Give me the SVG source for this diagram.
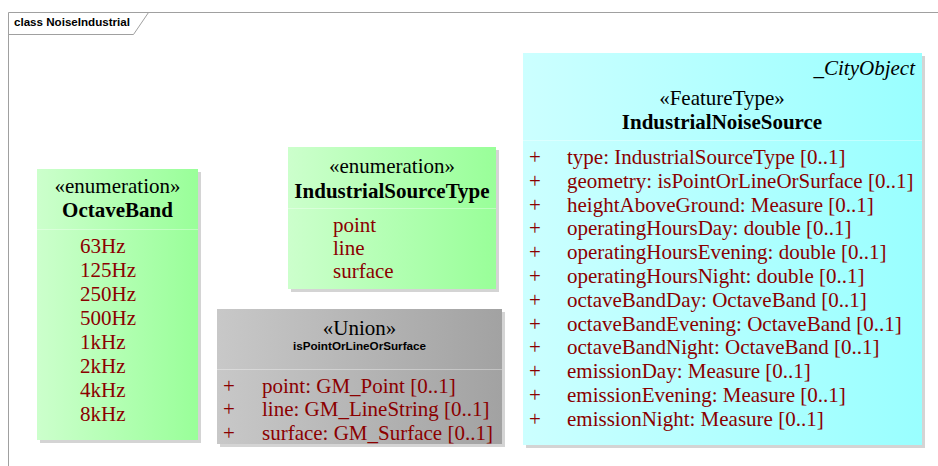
<svg xmlns="http://www.w3.org/2000/svg" width="938" height="466" viewBox="0 0 938 466">
<defs>
<linearGradient id="gGreen" x1="0" y1="0" x2="1" y2="0">
<stop offset="0" stop-color="#ccffcc"/>
<stop offset="1" stop-color="#99ff99"/>
</linearGradient>
<linearGradient id="gCyan" x1="0" y1="0" x2="1" y2="0">
<stop offset="0" stop-color="#ccffff"/>
<stop offset="1" stop-color="#99ffff"/>
</linearGradient>
<linearGradient id="gGray" x1="0" y1="0" x2="1" y2="0">
<stop offset="0" stop-color="#c8c8c8"/>
<stop offset="1" stop-color="#a2a2a2"/>
</linearGradient>
<style>
.frame{fill:none;stroke:#a0a0a0;stroke-width:1}
.shadow{fill:#d4d4d4}
.div{stroke:#ffffff;stroke-opacity:0.35;stroke-width:1}
.st{font-family:"Liberation Serif","Times New Roman",serif;font-size:21px;fill:#000;text-anchor:middle}
.nm{font-family:"Liberation Serif","Times New Roman",serif;font-size:21px;font-weight:bold;fill:#000;text-anchor:middle}
.it{font-family:"Liberation Serif","Times New Roman",serif;font-size:21px;font-style:italic;fill:#000;text-anchor:end}
.at{font-family:"Liberation Serif","Times New Roman",serif;font-size:21px;fill:#8b0000}
.sn{font-family:"Liberation Sans",Arial,sans-serif;font-size:11.7px;font-weight:bold;fill:#000;text-anchor:middle}
.fl{font-family:"Liberation Sans",Arial,sans-serif;font-size:11.6px;font-weight:bold;fill:#000}
</style>
</defs>
<rect width="938" height="466" fill="#ffffff"/>
<g id="frame">
<path class="frame" d="M8.5,466 V12.5 H938"/>
<path class="frame" d="M8.5,34.5 H133.5 L148.5,12.5"/>
<text class="fl" x="14" y="26">class NoiseIndustrial</text>
</g>
<g id="connectors"></g>
<g id="OctaveBand">
<rect class="shadow" x="40" y="172" width="161" height="271"/>
<rect x="37" y="169" width="161" height="271" fill="url(#gGreen)"/>
<line class="div" x1="37" y1="229.5" x2="198" y2="229.5"/>
<text class="st" x="117.5" y="193">«enumeration»</text>
<text class="nm" x="117.5" y="217">OctaveBand</text>
<text class="at" x="80" y="253">63Hz</text>
<text class="at" x="80" y="277">125Hz</text>
<text class="at" x="80" y="301">250Hz</text>
<text class="at" x="80" y="325">500Hz</text>
<text class="at" x="80" y="349">1kHz</text>
<text class="at" x="80" y="373">2kHz</text>
<text class="at" x="80" y="397">4kHz</text>
<text class="at" x="80" y="421">8kHz</text>
</g>
<g id="IndustrialSourceType">
<rect class="shadow" x="291" y="150" width="208" height="142"/>
<rect x="288" y="147" width="208" height="142" fill="url(#gGreen)"/>
<line class="div" x1="288" y1="208.5" x2="496" y2="208.5"/>
<text class="st" x="392" y="173">«enumeration»</text>
<text class="nm" x="392" y="198">IndustrialSourceType</text>
<text class="at" x="333" y="232">point</text>
<text class="at" x="333" y="255">line</text>
<text class="at" x="333" y="278">surface</text>
</g>
<g id="isPointOrLineOrSurface">
<rect class="shadow" x="220" y="312" width="285" height="135"/>
<rect x="217" y="309" width="285" height="135" fill="url(#gGray)"/>
<line class="div" x1="217" y1="369.5" x2="502" y2="369.5"/>
<text class="st" x="359.5" y="335">«Union»</text>
<text class="sn" x="359.5" y="350">isPointOrLineOrSurface</text>
<text class="at" x="223" y="393">+</text>
<text class="at" x="262" y="393">point: GM_Point [0..1]</text>
<text class="at" x="223" y="416">+</text>
<text class="at" x="262" y="416">line: GM_LineString [0..1]</text>
<text class="at" x="223" y="440">+</text>
<text class="at" x="262" y="440">surface: GM_Surface [0..1]</text>
</g>
<g id="IndustrialNoiseSource">
<rect class="shadow" x="526" y="56" width="399" height="392"/>
<rect x="523" y="53" width="399" height="392" fill="url(#gCyan)"/>
<line class="div" x1="523" y1="140.5" x2="922" y2="140.5"/>
<text class="it" x="915" y="75">_CityObject</text>
<text class="st" x="722" y="105">«FeatureType»</text>
<text class="nm" x="722" y="129">IndustrialNoiseSource</text>
<g class="at">
<text x="529" y="164">+</text><text x="567" y="164">type: IndustrialSourceType [0..1]</text>
<text x="529" y="188">+</text><text x="567" y="188">geometry: isPointOrLineOrSurface [0..1]</text>
<text x="529" y="212">+</text><text x="567" y="212">heightAboveGround: Measure [0..1]</text>
<text x="529" y="235">+</text><text x="567" y="235">operatingHoursDay: double [0..1]</text>
<text x="529" y="259">+</text><text x="567" y="259">operatingHoursEvening: double [0..1]</text>
<text x="529" y="283">+</text><text x="567" y="283">operatingHoursNight: double [0..1]</text>
<text x="529" y="307">+</text><text x="567" y="307">octaveBandDay: OctaveBand [0..1]</text>
<text x="529" y="331">+</text><text x="567" y="331">octaveBandEvening: OctaveBand [0..1]</text>
<text x="529" y="354">+</text><text x="567" y="354">octaveBandNight: OctaveBand [0..1]</text>
<text x="529" y="378">+</text><text x="567" y="378">emissionDay: Measure [0..1]</text>
<text x="529" y="402">+</text><text x="567" y="402">emissionEvening: Measure [0..1]</text>
<text x="529" y="426">+</text><text x="567" y="426">emissionNight: Measure [0..1]</text>
</g>
</g>
</svg>
